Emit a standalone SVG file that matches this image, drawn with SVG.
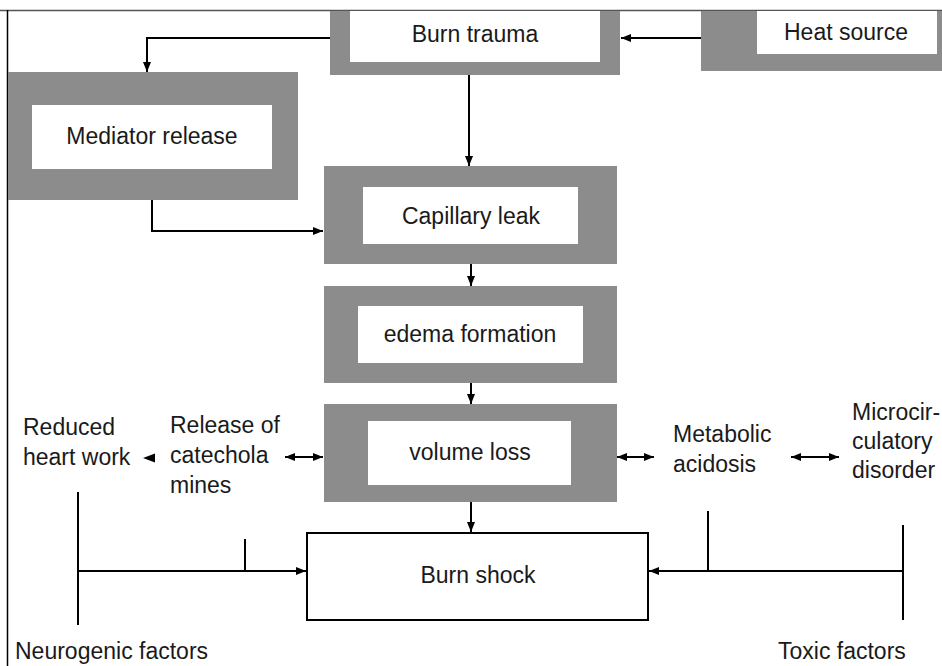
<svg xmlns="http://www.w3.org/2000/svg" width="942" height="666" viewBox="0 0 942 666">
<defs>
<style>
.g{fill:#8c8c8c}
.w{fill:#fff}
.t{font-family:"Liberation Sans",Arial,sans-serif;font-size:23px;fill:#1a1a1a}
.c{text-anchor:middle}
.ln{fill:none;stroke:#000;stroke-width:2}
</style>
<marker id="ah" viewBox="0 0 10 8" refX="10" refY="4" markerWidth="10" markerHeight="8" markerUnits="userSpaceOnUse" orient="auto-start-reverse">
<path d="M0,0 L10,4 L0,8 Z" fill="#000"/>
</marker>
</defs>
<rect x="0" y="0" width="942" height="666" fill="#fff"/>
<line x1="0" y1="10.5" x2="942" y2="10.5" stroke="#555" stroke-width="1.5"/>
<line x1="7.5" y1="10" x2="7.5" y2="666" stroke="#000" stroke-width="1.5"/>

<g id="burn-trauma">
<rect class="g" x="330" y="11" width="290" height="64"/>
<rect class="w" x="350" y="11" width="250" height="51"/>
<text class="t c" x="475" y="42">Burn trauma</text>
</g>
<g id="heat-source">
<rect class="g" x="701" y="11" width="241" height="60"/>
<rect class="w" x="757" y="11" width="180" height="43"/>
<text class="t c" x="846" y="40">Heat source</text>
</g>
<g id="mediator-release">
<rect class="g" x="8" y="72" width="290" height="128"/>
<rect class="w" x="32" y="105" width="240" height="64"/>
<text class="t c" x="152" y="144">Mediator release</text>
</g>
<g id="capillary-leak">
<rect class="g" x="324" y="166" width="293" height="98"/>
<rect class="w" x="363" y="187" width="215" height="57"/>
<text class="t c" x="471" y="224">Capillary leak</text>
</g>
<g id="edema-formation">
<rect class="g" x="324" y="286" width="293" height="97"/>
<rect class="w" x="358" y="306" width="225" height="57"/>
<text class="t c" x="470" y="342">edema formation</text>
</g>
<g id="volume-loss">
<rect class="g" x="324" y="404" width="293" height="98"/>
<rect class="w" x="368" y="421" width="203" height="64"/>
<text class="t c" x="470" y="460">volume loss</text>
</g>
<g id="burn-shock">
<rect x="307" y="533" width="341" height="87" fill="#fff" stroke="#000" stroke-width="2"/>
<text class="t c" x="478" y="583">Burn shock</text>
</g>
<g id="reduced-heart-work">
<text class="t" x="23" y="435">Reduced</text>
<text class="t" x="23" y="465">heart work</text>
</g>
<g id="catecholamines">
<text class="t" x="170" y="433">Release of</text>
<text class="t" x="170" y="463">catechola</text>
<text class="t" x="170" y="493">mines</text>
</g>
<g id="metabolic-acidosis">
<text class="t" x="673" y="442">Metabolic</text>
<text class="t" x="673" y="472">acidosis</text>
</g>
<g id="microcirculatory">
<text class="t" x="852" y="420">Microcir-</text>
<text class="t" x="852" y="449">culatory</text>
<text class="t" x="852" y="478">disorder</text>
</g>
<g id="neurogenic-factors">
<text class="t" x="15" y="659">Neurogenic factors</text>
</g>
<g id="toxic-factors">
<text class="t" x="778" y="659">Toxic factors</text>
</g>

<g id="connectors">
<line class="ln" x1="701" y1="38" x2="621" y2="38" marker-end="url(#ah)"/>
<polyline class="ln" points="330,38 147,38 147,72" marker-end="url(#ah)"/>
<line class="ln" x1="469" y1="75" x2="469" y2="166" marker-end="url(#ah)"/>
<polyline class="ln" points="152,200 152,231 323,231" marker-end="url(#ah)"/>
<line class="ln" x1="471" y1="264" x2="471" y2="286" marker-end="url(#ah)"/>
<line class="ln" x1="471" y1="383" x2="471" y2="404" marker-end="url(#ah)"/>
<line class="ln" x1="471" y1="502" x2="471" y2="532" marker-end="url(#ah)"/>
<path d="M143,458 L155,453.5 L155,462.5 Z" fill="#000"/>
<line class="ln" x1="285" y1="457" x2="323" y2="457" marker-start="url(#ah)" marker-end="url(#ah)"/>
<line class="ln" x1="617" y1="457" x2="654" y2="457" marker-start="url(#ah)" marker-end="url(#ah)"/>
<line class="ln" x1="791" y1="457" x2="839" y2="457" marker-start="url(#ah)" marker-end="url(#ah)"/>
<line class="ln" x1="78" y1="492" x2="78" y2="625"/>
<line class="ln" x1="78" y1="571" x2="306" y2="571" marker-end="url(#ah)"/>
<line class="ln" x1="245" y1="539" x2="245" y2="571"/>
<line class="ln" x1="903" y1="525" x2="903" y2="620"/>
<line class="ln" x1="903" y1="571" x2="649" y2="571" marker-end="url(#ah)"/>
<line class="ln" x1="708" y1="511" x2="708" y2="571"/>
</g>
</svg>
